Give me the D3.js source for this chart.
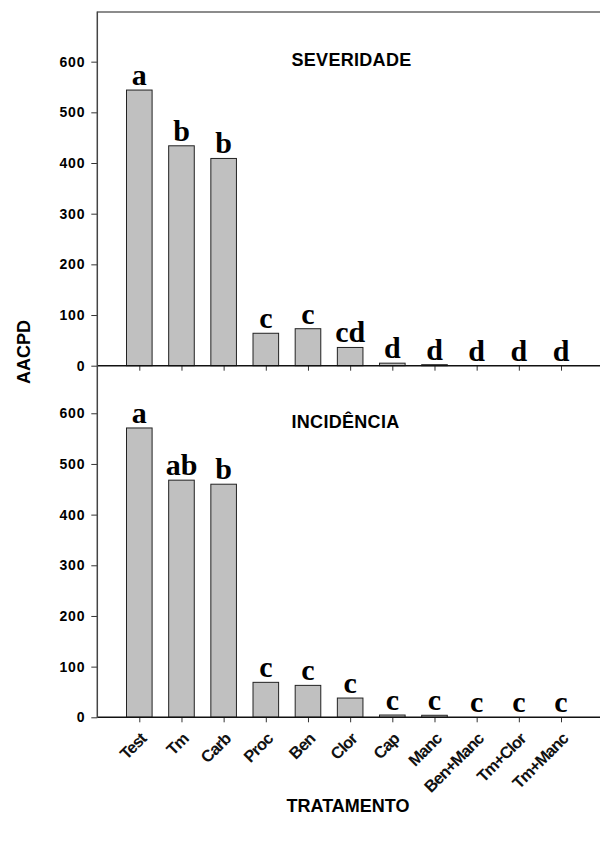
<!DOCTYPE html>
<html><head><meta charset="utf-8">
<script src="https://cdn.jsdelivr.net/npm/d3@7"></script>
<style>body{margin:0;background:#fff}svg{display:block}</style>
</head><body>
<script>
const categories = ["Test","Tm","Carb","Proc","Ben","Clor","Cap","Manc","Ben+Manc","Tm+Clor","Tm+Manc"];
const severidade = [544, 434, 409, 64, 73, 36, 5, 2, 0, 0, 0];
const incidencia = [571, 468, 460, 69, 63, 38, 4.5, 4, 0, 0, 0];
const lettersSev = ["a","b","b","c","c","cd","d","d","d","d","d"];
const lettersInc = ["a","ab","b","c","c","c","c","c","c","c","c"];
const yTicks = [0,100,200,300,400,500,600];

const W = 600, H = 843;
const svg = d3.select("body").append("svg").attr("width", W).attr("height", H);

const xLeft = 97.3, xRight = 603;
const x = d3.scalePoint().domain(categories).range([139.3, 561]);
const barW = 25.6;

const panels = [
  {vals: severidade, letters: lettersSev, title: "SEVERIDADE", y0: 365.7, titleY: 66},
  {vals: incidencia, letters: lettersInc, title: "INCIDÊNCIA", y0: 717.3, titleY: 427.5}
];

panels.forEach(p => {
  const y = d3.scaleLinear().domain([0, 700]).range([p.y0, p.y0 - 354.7]);
  const g = svg.append("g");
  g.selectAll("rect.bar").data(p.vals).enter().append("rect")
    .attr("x", (d,i) => x(categories[i]) - barW/2)
    .attr("y", d => y(d))
    .attr("width", barW)
    .attr("height", d => y(0) - y(d))
    .attr("fill", "#c0c0c0")
    .attr("stroke", "#222")
    .attr("stroke-width", 1);
  g.selectAll("text.let").data(p.letters).enter().append("text")
    .attr("x", (d,i) => x(categories[i]))
    .attr("y", (d,i) => y(p.vals[i]) - 5)
    .attr("text-anchor", "middle")
    .attr("font-family", "Liberation Serif, Times New Roman, serif")
    .attr("font-weight", "bold")
    .attr("font-size", 30)
    .text(d => d);
  const ya = d3.axisLeft(y).tickValues(yTicks).tickSize(6).tickPadding(6);
  const yg = g.append("g").attr("transform", `translate(${xLeft},0)`).call(ya);
  yg.select(".domain").remove();
  yg.selectAll("line").attr("stroke", "#333");
  yg.selectAll("text").attr("font-family", "Liberation Sans, Arial, sans-serif")
    .attr("font-weight", "bold").attr("font-size", 14).attr("letter-spacing", 0.8).attr("fill", "#000");
  const xa = d3.axisBottom(x).tickSize(5).tickFormat("");
  const xg = g.append("g").attr("transform", `translate(0,${p.y0})`).call(xa);
  xg.select(".domain").remove();
  xg.selectAll("line").attr("stroke", "#333");
  g.append("line").attr("x1", xLeft).attr("x2", xRight).attr("y1", p.y0).attr("y2", p.y0)
    .attr("stroke", "#111").attr("stroke-width", 1.5);
  g.append("text").attr("x", 291.5).attr("y", p.titleY)
    .attr("font-family", "Liberation Sans, Arial, sans-serif")
    .attr("font-weight", "bold").attr("font-size", 18).attr("letter-spacing", 0.3).text(p.title);
});

svg.append("line").attr("x1", xLeft).attr("x2", xRight).attr("y1", 12).attr("y2", 12)
  .attr("stroke", "#666").attr("stroke-width", 1.5);
svg.append("line").attr("x1", xLeft).attr("x2", xLeft).attr("y1", 11.5).attr("y2", 718)
  .attr("stroke", "#444").attr("stroke-width", 1.5);

svg.selectAll("text.cat").data(categories).enter().append("text")
  .attr("transform", d => `translate(${x(d) + 8},740) rotate(-45)`)
  .attr("text-anchor", "end")
  .attr("font-family", "Liberation Sans, Arial, sans-serif")
  .attr("font-weight", "bold")
  .attr("font-size", 16.5)
  .attr("letter-spacing", -0.9)
  .attr("fill", "#111")
  .text(d => d);

svg.append("text").attr("transform", "translate(30,352) rotate(-90)")
  .attr("text-anchor", "middle")
  .attr("font-family", "Liberation Sans, Arial, sans-serif")
  .attr("font-weight", "bold").attr("font-size", 18).text("AACPD");
svg.append("text").attr("x", 348).attr("y", 812)
  .attr("text-anchor", "middle")
  .attr("font-family", "Liberation Sans, Arial, sans-serif")
  .attr("font-weight", "bold").attr("font-size", 18).text("TRATAMENTO");
</script>
</body></html>
